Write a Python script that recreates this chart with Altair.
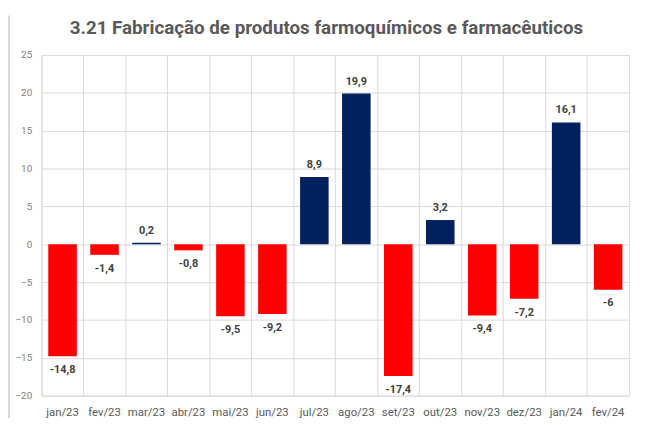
import altair as alt
import pandas as pd

months = ["jan/23", "fev/23", "mar/23", "abr/23", "mai/23", "jun/23", "jul/23",
          "ago/23", "set/23", "out/23", "nov/23", "dez/23", "jan/24", "fev/24"]
values = [-14.8, -1.4, 0.2, -0.8, -9.5, -9.2, 8.9, 19.9, -17.4, 3.2, -9.4, -7.2, 16.1, -6.0]
labels = ["-14,8", "-1,4", "0,2", "-0,8", "-9,5", "-9,2", "8,9", "19,9", "-17,4",
          "3,2", "-9,4", "-7,2", "16,1", "-6"]

df = pd.DataFrame({"mes": months, "valor": values, "rotulo": labels})
df["sinal"] = ["pos" if v >= 0 else "neg" for v in values]

W, H = 595, 345

x = alt.X("mes:N", sort=months, scale=alt.Scale(paddingInner=0, paddingOuter=0),
          axis=alt.Axis(title=None, labelAngle=0, grid=True, bandPosition=0,
                        gridColor="#d9d9d9", ticks=False, domain=False,
                        labelFont="Roboto", labelFontSize=11.5, labelColor="#595959",
                        labelPadding=11))
y = alt.Y("valor:Q", scale=alt.Scale(domain=[-20, 25], nice=False),
          axis=alt.Axis(title=None, values=list(range(-20, 30, 5)), gridColor="#d9d9d9",
                        ticks=False, domain=False, labelFont="Roboto", labelFontSize=10,
                        labelColor="#7f7f7f", labelPadding=10))

base = alt.Chart(df)

bars = base.mark_bar(width={"band": 0.68}).encode(
    x=x, y=y,
    color=alt.Color("sinal:N", scale=alt.Scale(domain=["pos", "neg"], range=["#002060", "#ff0000"]), legend=None),
)

txt_pos = base.transform_filter("datum.valor >= 0").mark_text(
    baseline="bottom", dy=-7, font="Roboto", fontWeight="bold", fontSize=11, color="#404040"
).encode(x=x, y=y, text="rotulo:N")

txt_neg = base.transform_filter("datum.valor < 0").mark_text(
    baseline="top", dy=8, font="Roboto", fontWeight="bold", fontSize=11, color="#404040"
).encode(x=x, y=y, text="rotulo:N")

frame = alt.Chart(df.head(1)).mark_rule(color="#d9d9d9", strokeWidth=2).encode(
    x=alt.value(-33), y=alt.value(-40), y2=alt.value(H + 40)
)

chart = (bars + txt_pos + txt_neg + frame).properties(
    width=W, height=H,
    autosize=alt.AutoSizeParams(type="none"),
    padding={"left": 34, "top": 45, "right": 8, "bottom": 20},
    title=alt.TitleParams("3.21 Fabricação de produtos farmoquímicos e farmacêuticos",
                          font="Roboto", fontSize=19, fontWeight="bold", color="#595959",
                          anchor="middle", dx=-9, offset=-24),
).configure_view(fill="#f4f4f4", stroke="#d9d9d9").configure(background="white")

chart.save("out.html", embed_options={"renderer": "svg", "actions": False})
